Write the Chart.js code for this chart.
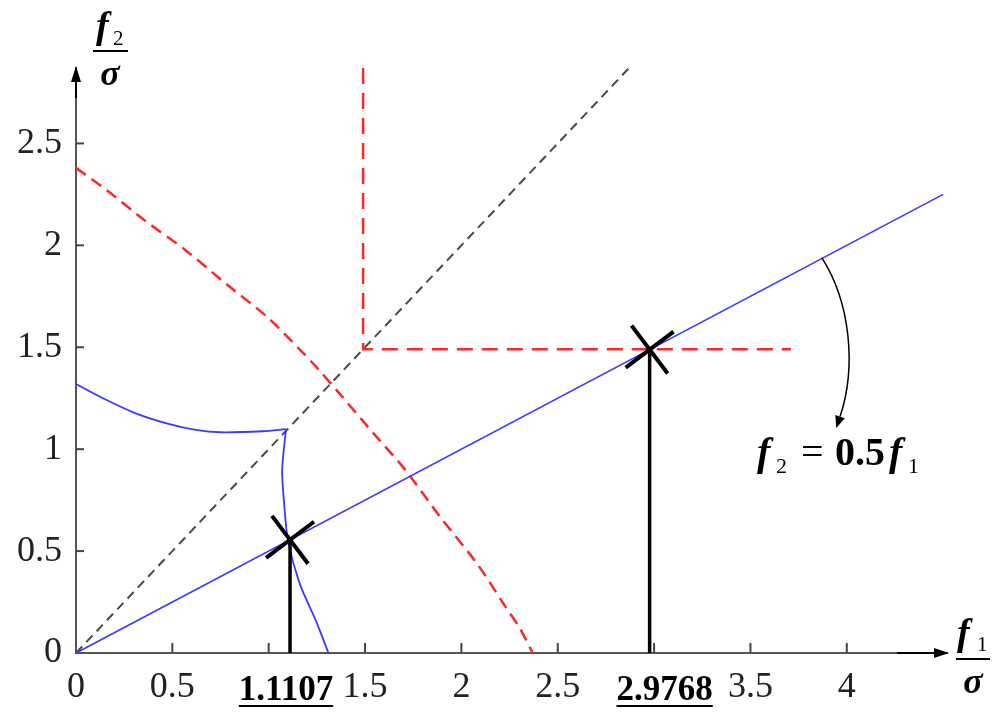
<!DOCTYPE html>
<html>
<head>
<meta charset="utf-8">
<script src="https://cdn.jsdelivr.net/npm/chart.js@4.4.1/dist/chart.umd.min.js"></script>
<style>
  body { margin: 0; background: #fff; }
</style>
</head>
<body>
<canvas id="chart" width="1000" height="719"></canvas>
<script>
// TICKS
const f1Ticks = [0, 0.5, 1, 1.5, 2, 2.5, 3, 3.5, 4];
const f1TickLabels = ["0", "0.5", "", "1.5", "2", "2.5", "", "3.5", "4"];
const f2Ticks = [0, 0.5, 1, 1.5, 2, 2.5];
const f2TickLabels = ["0", "0.5", "1", "1.5", "2", "2.5"];

// f2 = 0.5 f1
const lineF1 = [0, 4.5];
const lineF2 = [0, 2.25];
// f2 = f1
const diagF1 = [0, 2.87];
const diagF2 = [0, 2.87];
// red dashed corner
const cornerF1 = [1.49, 1.49, 3.71];
const cornerF2 = [2.87, 1.49, 1.49];
// red dashed curve
const redF1 = [0, 0.16, 0.36, 0.57, 0.78, 0.99, 1.16, 1.25, 1.37, 1.56, 1.71, 1.89, 2.08, 2.23, 2.30, 2.37];
const redF2 = [2.38, 2.27, 2.12, 1.975, 1.81, 1.65, 1.49, 1.40, 1.27, 1.06, 0.897, 0.667, 0.44, 0.225, 0.127, 0];
// blue solid curve, upper branch (ends at the corner)
const blueTopF1 = [0, 0.14, 0.31, 0.47, 0.63, 0.75, 0.97, 1.09];
const blueTopF2 = [1.32, 1.25, 1.176, 1.127, 1.093, 1.083, 1.088, 1.098];
// blue solid curve, lower branch (starts at the corner)
const blueLowF1 = [1.09, 1.07, 1.08, 1.10, 1.16, 1.25, 1.31];
const blueLowF2 = [1.098, 0.90, 0.735, 0.554, 0.343, 0.147, 0];
// marked points
const markF1 = [1.1107, 2.9768];
const markF2 = [0.5554, 1.4884];
const markLabels = ["1.1107", "2.9768"];

const SERIF = '"Liberation Serif", "Times New Roman", serif';

function pts(xs, ys) {
    return xs.map((x, i) => ({ x: x, y: ys[i] }));
}

function seg(ctx, x1, y1, x2, y2) {
    ctx.beginPath();
    ctx.moveTo(x1, y1);
    ctx.lineTo(x2, y2);
    ctx.stroke();
}

// extra drawing: inward ticks, arrows, titles, labels, note
const decor = {
    id: "decor",
    afterDraw(chart) {
        const { ctx, chartArea: a, scales } = chart;
        const x = scales.x, y = scales.y;
        ctx.save();

        // inward tick marks
        ctx.strokeStyle = "#444";
        ctx.lineWidth = 2;
        x.ticks.forEach(t => {
            if (!t.value) return;
            const px = x.getPixelForValue(t.value);
            seg(ctx, px, a.bottom, px, a.bottom - 10);
        });
        y.ticks.forEach(t => {
            if (!t.value) return;
            const py = y.getPixelForValue(t.value);
            seg(ctx, a.left, py, a.left + 8, py);
        });

        // axis ends + arrow heads
        ctx.strokeStyle = "#000";
        ctx.fillStyle = "#000";
        seg(ctx, a.right - 50, a.bottom, a.right - 10, a.bottom);
        seg(ctx, a.left, a.top + 30, a.left, a.top + 10);
        ctx.beginPath();
        ctx.moveTo(a.right + 2, a.bottom);
        ctx.lineTo(a.right - 13, a.bottom - 5);
        ctx.lineTo(a.right - 13, a.bottom + 5);
        ctx.closePath();
        ctx.fill();
        ctx.beginPath();
        ctx.moveTo(a.left, a.top - 2);
        ctx.lineTo(a.left - 5, a.top + 14);
        ctx.lineTo(a.left + 5, a.top + 14);
        ctx.closePath();
        ctx.fill();

        // axis titles f2/sigma and f1/sigma
        ctx.textBaseline = "alphabetic";
        ctx.textAlign = "left";
        ctx.font = "italic bold 38px " + SERIF;
        ctx.fillText("f", 96, 38);
        ctx.fillText("f", 957, 645);
        ctx.font = "21px " + SERIF;
        ctx.fillText("2", 113, 45);
        ctx.fillText("1", 977, 651);
        ctx.lineWidth = 2;
        seg(ctx, 93, 51, 128, 51);
        seg(ctx, 956, 659, 990, 659);
        ctx.textAlign = "center";
        ctx.font = "italic bold 36px " + SERIF;
        ctx.fillText("\u03C3", 110, 85);
        ctx.fillText("\u03C3", 973, 693);

        // bold underlined values under the marked points
        ctx.font = "bold 35px " + SERIF;
        const shift = [-4, 15];
        markF1.forEach((v, i) => {
            const cx = x.getPixelForValue(v) + shift[i];
            ctx.textAlign = "center";
            ctx.fillText(markLabels[i], cx, 700);
            const w = ctx.measureText(markLabels[i]).width;
            seg(ctx, cx - w / 2, 706, cx + w / 2, 706);
        });

        // curved arrow from the line to the formula
        const p0 = [x.getPixelForValue(3.87), y.getPixelForValue(1.94)];
        const c1 = [x.getPixelForValue(4.02), y.getPixelForValue(1.72)];
        const c2 = [x.getPixelForValue(4.05), y.getPixelForValue(1.40)];
        const p1 = [x.getPixelForValue(3.965), y.getPixelForValue(1.16)];
        ctx.lineWidth = 1.5;
        ctx.beginPath();
        ctx.moveTo(p0[0], p0[1]);
        ctx.bezierCurveTo(c1[0], c1[1], c2[0], c2[1], p1[0], p1[1]);
        ctx.stroke();
        const dx = p1[0] - c2[0], dy = p1[1] - c2[1];
        const L = Math.hypot(dx, dy), ux = dx / L, uy = dy / L;
        const tip = [p1[0] + ux * 12, p1[1] + uy * 12];
        ctx.beginPath();
        ctx.moveTo(tip[0], tip[1]);
        ctx.lineTo(p1[0] - uy * 5, p1[1] + ux * 5);
        ctx.lineTo(p1[0] + uy * 5, p1[1] - ux * 5);
        ctx.closePath();
        ctx.fill();

        // formula f2 = 0.5 f1
        ctx.textAlign = "left";
        ctx.font = "italic bold 40px " + SERIF;
        ctx.fillText("f", 757, 465);
        ctx.fillText("f", 889, 465);
        ctx.font = "22px " + SERIF;
        ctx.fillText("2", 776, 473);
        ctx.fillText("1", 908, 473);
        ctx.font = "40px " + SERIF;
        ctx.fillText("=", 801, 465);
        ctx.font = "bold 40px " + SERIF;
        ctx.fillText("0.5", 835, 465);

        ctx.restore();
    }
};

const tickFont = { family: SERIF, size: 36 };

new Chart(document.getElementById("chart"), {
    type: "scatter",
    data: {
        datasets: [
            {
                label: "marks",
                data: pts(markF1, markF2),
                showLine: false,
                pointStyle: "cross",
                pointRotation: -37,
                pointRadius: 30,
                pointBorderWidth: 4,
                pointBorderColor: "#000",
                pointBackgroundColor: "#000",
                clip: false
            },
            ...markF1.map((v, i) => ({
                label: "stem " + markLabels[i],
                data: [{ x: v, y: 0 }, { x: v, y: markF2[i] }],
                showLine: true,
                borderColor: "#000",
                borderWidth: 3.5,
                pointRadius: 0,
                clip: false
            })),
            {
                label: "f2 = 0.5 f1",
                data: pts(lineF1, lineF2),
                showLine: true,
                borderColor: "#3a3aff",
                borderWidth: 1.6,
                pointRadius: 0,
                clip: false
            },
            {
                label: "blue curve top",
                data: pts(blueTopF1, blueTopF2),
                showLine: true,
                borderColor: "#3a3aff",
                borderWidth: 1.8,
                tension: 0.3,
                pointRadius: 0,
                clip: false
            },
            {
                label: "blue curve low",
                data: pts(blueLowF1, blueLowF2),
                showLine: true,
                borderColor: "#3a3aff",
                borderWidth: 1.8,
                tension: 0.3,
                pointRadius: 0,
                clip: false
            },
            {
                label: "corner",
                data: pts(cornerF1, cornerF2),
                showLine: true,
                borderColor: "#ff2626",
                borderWidth: 2.5,
                borderDash: [16, 9],
                pointRadius: 0,
                clip: false
            },
            {
                label: "red curve",
                data: pts(redF1, redF2),
                showLine: true,
                borderColor: "#ff2626",
                borderWidth: 2.5,
                borderDash: [12, 7],
                tension: 0.3,
                pointRadius: 0,
                clip: false
            },
            {
                label: "f2 = f1",
                data: pts(diagF1, diagF2),
                showLine: true,
                borderColor: "#4a4a4a",
                borderWidth: 2,
                borderDash: [9, 6],
                pointRadius: 0,
                clip: false
            }
        ]
    },
    options: {
        responsive: false,
        animation: false,
        events: [],
        layout: { padding: { top: 68, right: 53, left: 0, bottom: 0 } },
        plugins: {
            legend: { display: false },
            tooltip: { enabled: false }
        },
        scales: {
            x: {
                type: "linear",
                min: 0,
                max: 4.52,
                afterBuildTicks: s => { s.ticks = f1Ticks.map(v => ({ value: v })); },
                afterFit: s => { s.height = 66; },
                grid: { display: false, drawTicks: false },
                border: { display: true, color: "#555", width: 2 },
                ticks: {
                    callback: (v, i) => f1TickLabels[i],
                    font: tickFont,
                    color: "#222",
                    padding: 13,
                    maxRotation: 0,
                    autoSkip: false
                }
            },
            y: {
                type: "linear",
                min: 0,
                max: 2.87,
                afterBuildTicks: s => { s.ticks = f2Ticks.map(v => ({ value: v })); },
                afterFit: s => { s.width = 76; },
                grid: { display: false, drawTicks: false },
                border: { display: true, color: "#555", width: 2 },
                ticks: {
                    callback: (v, i) => f2TickLabels[i],
                    font: tickFont,
                    color: "#222",
                    padding: 14,
                    autoSkip: false
                }
            }
        }
    },
    plugins: [decor]
});
</script>
</body>
</html>
